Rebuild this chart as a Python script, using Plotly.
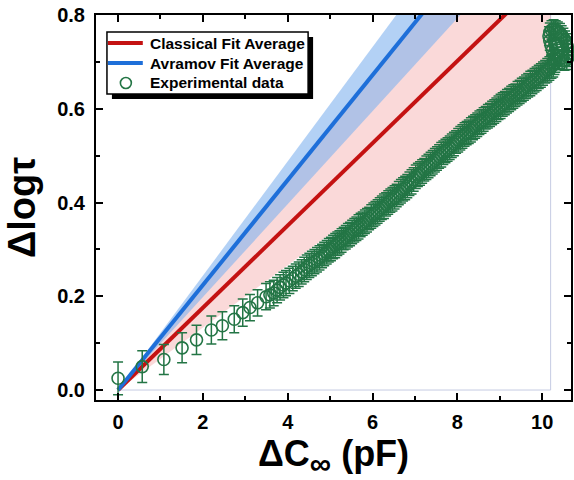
import plotly.graph_objects as go

# Experimental Δlogτ vs ΔC∞ (pF), split by run segment
dc_early = [0.00, 0.57, 1.08, 1.51, 1.85, 2.20, 2.46, 2.74, 2.94, 3.11, 3.29]
dlog_early = [0.025, 0.050, 0.065, 0.090, 0.107, 0.128, 0.137, 0.151, 0.165,
              0.176, 0.186]
err_early = [0.035, 0.034, 0.032, 0.032, 0.031, 0.030, 0.030, 0.029, 0.029,
             0.028, 0.028]

dc_mid = [3.49, 3.58, 3.67, 3.75, 3.82, 3.90, 3.96, 4.04, 4.12, 4.19,
          4.26, 4.33, 4.39, 4.45, 4.51, 4.57, 4.63, 4.69, 4.75, 4.81,
          4.86, 4.92, 4.97]
dlog_mid = [0.199, 0.203, 0.207, 0.213, 0.219, 0.224, 0.228, 0.233, 0.238, 0.243,
            0.247, 0.252, 0.257, 0.262, 0.266, 0.270, 0.274, 0.278, 0.282, 0.286,
            0.290, 0.294, 0.298]
err_mid = [0.028, 0.028, 0.027, 0.027, 0.027, 0.027, 0.027, 0.027, 0.026, 0.026,
           0.026, 0.026, 0.026, 0.026, 0.026, 0.026, 0.026, 0.026, 0.026, 0.025,
           0.025, 0.025, 0.025]

dc_late = [5.02, 5.07, 5.12, 5.17, 5.22, 5.27, 5.32, 5.37, 5.42, 5.47,
           5.52, 5.57, 5.62, 5.67, 5.72, 5.77, 5.82, 5.87, 5.92, 5.97,
           6.02, 6.07, 6.12, 6.17, 6.22, 6.27, 6.32, 6.37, 6.42, 6.47,
           6.52, 6.57, 6.62, 6.67, 6.72, 6.77, 6.82, 6.87, 6.92, 6.97,
           7.02, 7.07, 7.12, 7.17, 7.22, 7.27, 7.32, 7.37, 7.42, 7.47,
           7.52, 7.57, 7.62, 7.67, 7.72, 7.77, 7.82, 7.87, 7.92, 7.97,
           8.02, 8.07, 8.12, 8.17, 8.22, 8.27, 8.32, 8.37, 8.42, 8.47,
           8.52, 8.57, 8.62, 8.67, 8.72, 8.77, 8.82, 8.87, 8.92, 8.97,
           9.02, 9.07, 9.12, 9.17, 9.22, 9.27, 9.32, 9.37, 9.42, 9.47,
           9.52, 9.57, 9.62, 9.67, 9.72, 9.77, 9.82, 9.87, 9.92, 9.97,
           10.02, 10.07, 10.12, 10.17, 10.22]
dlog_late = [0.301, 0.305, 0.308, 0.312, 0.315, 0.319, 0.323, 0.326, 0.330, 0.333,
             0.337, 0.341, 0.344, 0.348, 0.352, 0.355, 0.359, 0.362, 0.366, 0.370,
             0.374, 0.377, 0.381, 0.385, 0.389, 0.392, 0.396, 0.400, 0.404, 0.407,
             0.411, 0.415, 0.420, 0.424, 0.428, 0.431, 0.435, 0.440, 0.444, 0.449,
             0.455, 0.459, 0.462, 0.466, 0.470, 0.474, 0.478, 0.482, 0.486, 0.490,
             0.494, 0.498, 0.502, 0.506, 0.510, 0.513, 0.517, 0.521, 0.525, 0.529,
             0.533, 0.537, 0.541, 0.545, 0.548, 0.551, 0.555, 0.559, 0.562, 0.566,
             0.570, 0.573, 0.577, 0.581, 0.584, 0.587, 0.591, 0.594, 0.598, 0.602,
             0.605, 0.609, 0.612, 0.616, 0.619, 0.623, 0.626, 0.629, 0.633, 0.636,
             0.640, 0.643, 0.647, 0.650, 0.654, 0.657, 0.661, 0.664, 0.668, 0.671,
             0.675, 0.679, 0.682, 0.686, 0.690]
err_late = [0.025, 0.025, 0.026, 0.025, 0.025, 0.025, 0.024, 0.025, 0.025, 0.025,
            0.025, 0.025, 0.025, 0.026, 0.025, 0.025, 0.025, 0.025, 0.024, 0.025,
            0.025, 0.025, 0.025, 0.025, 0.025, 0.026, 0.025, 0.025, 0.025, 0.025,
            0.025, 0.024, 0.025, 0.025, 0.025, 0.025, 0.025, 0.025, 0.026, 0.025,
            0.025, 0.025, 0.025, 0.025, 0.024, 0.025, 0.025, 0.025, 0.025, 0.025,
            0.025, 0.025, 0.026, 0.025, 0.025, 0.025, 0.025, 0.025, 0.025, 0.024,
            0.025, 0.025, 0.025, 0.025, 0.025, 0.025, 0.026, 0.025, 0.025, 0.025,
            0.025, 0.025, 0.025, 0.024, 0.025, 0.025, 0.025, 0.025, 0.025, 0.025,
            0.026, 0.025, 0.025, 0.025, 0.025, 0.025, 0.025, 0.024, 0.025, 0.025,
            0.025, 0.025, 0.025, 0.025, 0.026, 0.025, 0.025, 0.025, 0.025, 0.025,
            0.025, 0.024, 0.025, 0.025, 0.025]

# final points, where the signal turns over at the end of the run
dc_end = [10.26, 10.29, 10.31, 10.30, 10.27, 10.24, 10.21, 10.18, 10.16, 10.18,
          10.22, 10.27, 10.32, 10.37, 10.42, 10.46, 10.50, 10.54, 10.57, 10.59,
          10.61, 10.62, 10.61, 10.58, 10.53, 10.47, 10.41, 10.36]
dlog_end = [0.693, 0.697, 0.702, 0.708, 0.716, 0.725, 0.735, 0.745, 0.755, 0.763,
            0.768, 0.770, 0.768, 0.765, 0.762, 0.757, 0.752, 0.746, 0.740, 0.733,
            0.726, 0.718, 0.710, 0.704, 0.702, 0.703, 0.706, 0.712]
err_end = [0.025, 0.024, 0.024, 0.022, 0.022, 0.021, 0.021, 0.020, 0.020, 0.020,
           0.020, 0.020, 0.020, 0.020, 0.020, 0.020, 0.020, 0.020, 0.020, 0.020,
           0.020, 0.020, 0.020, 0.020, 0.020, 0.020, 0.020, 0.020]

dc_inf = dc_early + dc_mid + dc_late + dc_end
dlog_tau = dlog_early + dlog_mid + dlog_late + dlog_end
dlog_err = err_early + err_mid + err_late + err_end

# Linear fits through the origin, evaluated at the ends of the fitted range
fit_x = [0.0, 10.2]
classical_avg = [0.0, 0.895]
classical_low = [0.0, 0.679]
classical_high = [0.0, 1.142]
avramov_avg = [0.0, 1.142]
avramov_low = [0.0, 1.011]
avramov_high = [0.0, 1.244]

legend_labels = ["Classical Fit Average", "Avramov Fit Average",
                 "Experimental data"]

RED = "#C41212"
BLUE = "#1E6FD9"
GREEN = "#237545"
FONT = "Liberation Sans"

# plot-area geometry in pixels, used to place the hand-built legend
W, H = 574, 480
ML, MR, MT, MB = 96, 1, 15, 80
PW, PH = W - ML - MR, H - MT - MB


def px(xp):
    return (xp - ML) / PW


def py(yp):
    return (H - MB - yp) / PH


fig = go.Figure()

# outline of the fitted range
fig.add_trace(go.Scatter(
    x=[fit_x[0], fit_x[1], fit_x[1]], y=[0.0, 0.0, 1.0], mode="lines",
    line=dict(color="#c5cbe3", width=1), showlegend=False, hoverinfo="skip"))

# confidence bands
fig.add_trace(go.Scatter(
    x=fit_x + fit_x[::-1], y=classical_high + classical_low[::-1],
    fill="toself", fillcolor="rgba(240,130,130,0.3)", mode="none",
    showlegend=False, hoverinfo="skip"))
fig.add_trace(go.Scatter(
    x=fit_x + fit_x[::-1], y=avramov_high + avramov_low[::-1],
    fill="toself", fillcolor="rgba(128,178,238,0.6)", mode="none",
    showlegend=False, hoverinfo="skip"))

fig.add_trace(go.Scatter(
    x=fit_x, y=classical_avg, mode="lines", name=legend_labels[0],
    line=dict(color=RED, width=4), showlegend=False))
fig.add_trace(go.Scatter(
    x=fit_x, y=avramov_avg, mode="lines", name=legend_labels[1],
    line=dict(color=BLUE, width=4), showlegend=False))

fig.add_trace(go.Scatter(
    x=dc_inf, y=dlog_tau, mode="markers", name=legend_labels[2],
    marker=dict(symbol="circle-open", size=12, color=GREEN,
                line=dict(width=1.6, color=GREEN)),
    error_y=dict(type="data", array=dlog_err, visible=True, color=GREEN,
                 thickness=1.5, width=5),
    cliponaxis=False, showlegend=False))

axis_common = dict(
    showline=True, linecolor="black", linewidth=2, mirror="ticks",
    ticks="inside", tickcolor="black", tickwidth=2, ticklen=7,
    showgrid=False, zeroline=False,
    tickfont=dict(family=FONT, size=20, color="black", weight="bold"),
)

fig.update_xaxes(
    range=[-0.52, 10.68], tickvals=[0, 2, 4, 6, 8, 10],
    ticklabelstandoff=3,
    minor=dict(dtick=1, ticks="inside", ticklen=4, tickwidth=2,
               tickcolor="black", showgrid=False),
    title=dict(text="ΔC<sub><span style='font-size:30px'>∞</span></sub> (pF)",
               standoff=15,
               font=dict(family=FONT, size=36, color="black", weight="bold")),
    **axis_common)
fig.update_yaxes(
    range=[-0.0213, 0.8], tickvals=[0.0, 0.2, 0.4, 0.6, 0.8],
    ticktext=["0.0", "0.2", "0.4", "0.6", "0.8"],
    ticklabelstandoff=5,
    minor=dict(dtick=0.1, ticks="inside", ticklen=4, tickwidth=2,
               tickcolor="black", showgrid=False),
    title=dict(text="Δlogτ", standoff=10,
               font=dict(family=FONT, size=38, color="black", weight="bold")),
    **axis_common)

# legend box with a drop shadow
box = (107, 309, 32, 94)
shadow = 5
fig.add_shape(type="rect", xref="paper", yref="paper",
              x0=px(box[0] + shadow), x1=px(box[1] + shadow),
              y0=py(box[3] + shadow), y1=py(box[2] + shadow),
              fillcolor="black", line=dict(width=0), layer="above")
fig.add_shape(type="rect", xref="paper", yref="paper",
              x0=px(box[0]), x1=px(box[1]), y0=py(box[3]), y1=py(box[2]),
              fillcolor="white", line=dict(color="black", width=1.5),
              layer="above")

rows = [43, 63, 83]
for yy, col in zip(rows[:2], [RED, BLUE]):
    fig.add_shape(type="line", xref="paper", yref="paper",
                  x0=px(108), x1=px(143), y0=py(yy), y1=py(yy),
                  line=dict(color=col, width=4), layer="above")
fig.add_shape(type="circle", xref="paper", yref="paper",
              x0=px(120.5), x1=px(131.5), y0=py(rows[2] + 5.5),
              y1=py(rows[2] - 5.5),
              line=dict(color=GREEN, width=1.6), layer="above")
for yy, label in zip(rows, legend_labels):
    fig.add_annotation(xref="paper", yref="paper", x=px(148), y=py(yy),
                       text=label, showarrow=False, xanchor="left",
                       yanchor="middle",
                       font=dict(family=FONT, size=15.5, color="black",
                                 weight="bold"))

fig.update_layout(
    width=W, height=H,
    margin=dict(l=ML, r=MR, t=MT, b=MB),
    paper_bgcolor="white", plot_bgcolor="white",
    showlegend=False,
)

fig.write_html("out.html")
